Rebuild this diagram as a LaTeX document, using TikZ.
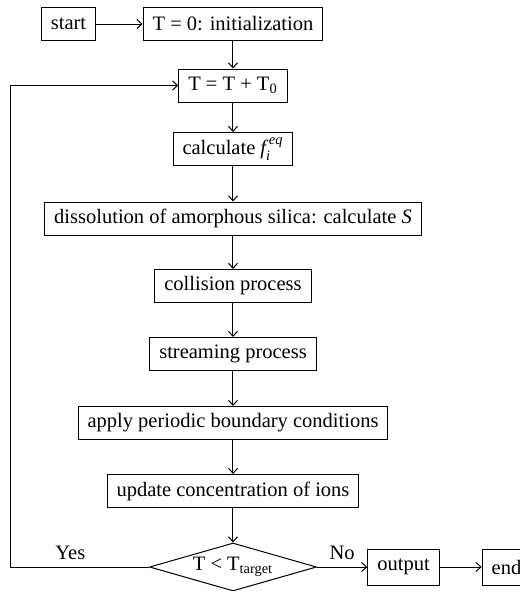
\documentclass[tikz,border=0pt]{standalone}
\usepackage{amsmath}
\usepackage{fontspec}
\setmainfont{Liberation Serif}
\usepackage{tikz}
\usetikzlibrary{shapes.geometric,arrows.meta,positioning}

\begin{document}
\begin{tikzpicture}[node distance=34pt, line width=0.5pt,
  font=\fontsize{10.25}{12}\selectfont,
  >={Straight Barb[length=2.5pt,width=4.5pt]},
  procbox/.style={draw, minimum height=16.5pt, inner xsep=4.75pt, inner ysep=0pt},
  decision/.style={draw, diamond, aspect=3.5, inner sep=0pt,
    minimum width=83.5pt, minimum height=24pt}]
\useasboundingbox (0,0) rectangle (260pt,-295.5pt);
%nodes

\node (init)[procbox] at (116.5pt,-12pt)         {T = 0: initialization};
\node (start)[procbox, left of=init, node distance=82.25pt] {start};

\node (step)[procbox, below of=init, node distance=30.75pt] {T = T + T\textsubscript{0}};
\node (feq)[procbox, below of=step, node distance=31.75pt]  {calculate $\textit{f}^{\,\textit{eq}}_{\textit{i}}$};
\node (diss)[procbox, below of=feq, node distance=34.75pt]  {dissolution of amorphous silica: calculate \textit{S}};
\node (coll)[procbox, below of=diss, node distance=33.75pt] {collision process};
\node (strm)[procbox, below of=coll]                       {streaming process};
\node (pbc)[procbox, below of=strm, node distance=34.5pt]   {apply periodic boundary conditions};
\node (ions)[procbox, below of=pbc]                        {update concentration of ions};

\node (cond)[decision, below of=ions, node distance=38pt]   {T < T\textsubscript{target}};
\node (out)[procbox, minimum height=18pt, right of=cond, node distance=85.25pt] {output};
\node (stop)[procbox, minimum height=18pt, right of=out, node distance=51.5pt]  {end};


%links
\draw[->] (start) to (init);
\draw[->] (init) to (step);
\draw[->] (step) to (feq);
\draw[->] (feq) to (diss);
\draw[->] (diss) to (coll);
\draw[->] (coll) to (strm);
\draw[->] (strm) to (pbc);
\draw[->] (pbc) to (ions);
\draw[->] (ions) to (cond);
\draw[->] (cond) to node[above] {No} (out);
\draw[->] (out) to (stop);
\draw[->] (cond.west) -- node[above, pos=0.57] {Yes} ++(-69pt,0) |- (step.west);
\end{tikzpicture}
\end{document}
